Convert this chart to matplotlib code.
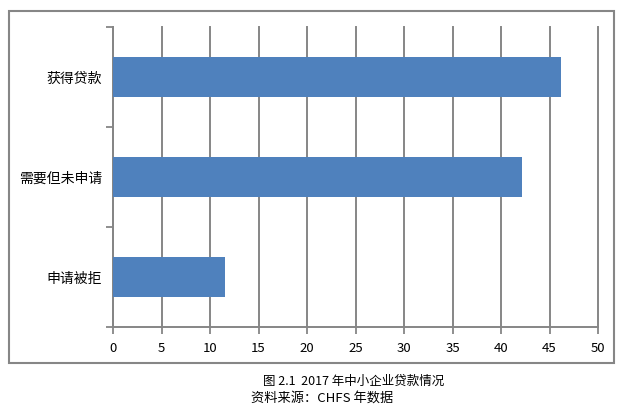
import matplotlib
matplotlib.use("Agg")
import matplotlib.pyplot as plt
from matplotlib.patches import Rectangle

plt.rcParams['font.family'] = ['Noto Sans CJK SC', 'DejaVu Sans']

categories = ["申请被拒", "需要但未申请", "获得贷款"]
values = [11.5, 42.2, 46.2]
xticks = [0, 5, 10, 15, 20, 25, 30, 35, 40, 45, 50]
caption1 = "图 2.1  2017 年中小企业贷款情况"
caption2 = "资料来源：CHFS 年数据"

W, H = 624, 417
fig = plt.figure(figsize=(W / 100, H / 100), dpi=100)
gray = "#868686"

ax = fig.add_axes([113 / W, 1 - 327 / H, (598 - 113) / W, (327 - 27) / H])
pos = list(range(len(categories)))
ax.barh(pos, values, height=0.4, color="#4F81BD", zorder=3)
ax.set_xlim(0, 50)
ax.set_ylim(-0.5, len(categories) - 0.5)
ax.set_xticks(xticks)
ax.set_xticklabels([str(t) for t in xticks], fontsize=9.5)
ax.set_yticks([p - 0.5 for p in pos] + [len(categories) - 0.5])
ax.set_yticklabels([])
ax.set_yticks(pos, minor=True)
ax.set_yticklabels(categories, minor=True, fontsize=10)
ax.tick_params(axis='y', which='minor', length=0, pad=8)
ax.tick_params(axis='y', which='major', length=5, width=1.3, color=gray)
ax.tick_params(axis='x', length=5, width=1.3, color=gray, pad=6)
ax.grid(axis='x', color=gray, linewidth=1.4, zorder=0)
for gl in ax.get_xgridlines():
    gl.set_clip_on(False)
for s in ['top', 'right']:
    ax.spines[s].set_visible(False)
for s in ['left', 'bottom']:
    ax.spines[s].set_color(gray)
    ax.spines[s].set_linewidth(1.4)

frame = Rectangle((9 / W, 1 - 363 / H), (614 - 9) / W, (363 - 11) / H,
                  transform=fig.transFigure, fill=False, edgecolor=gray,
                  linewidth=1.5)
fig.add_artist(frame)

fig.text(354 / W, 1 - 381 / H, caption1, ha='center', va='center', fontsize=9)
fig.text(322 / W, 1 - 398 / H, caption2, ha='center', va='center', fontsize=9.5)

fig.savefig("out.png", dpi=100)
